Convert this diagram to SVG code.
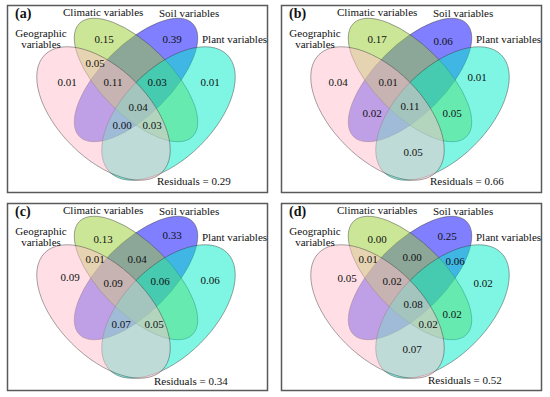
<svg xmlns="http://www.w3.org/2000/svg" xmlns:xlink="http://www.w3.org/1999/xlink" width="550" height="397" viewBox="0 0 550 397">
<style>
text{font-family:'Liberation Serif','DejaVu Serif',serif;font-size:11px;fill:#111}
.n{text-anchor:middle}
.c{text-anchor:middle}
.lab{font-weight:bold;font-size:14px}
.frame{fill:#fff;stroke:#5a5a5a;stroke-width:1.5}
ellipse{stroke:#3c3c3c;stroke-opacity:.55;stroke-width:.8;fill-opacity:.5}
.soil{fill:#0000ff}
.cli{fill:#9acd32}
.plant{fill:#00eec8}
.geo{fill:#ffc0cb}
</style>
<defs>
<g id="venn">
<ellipse class="soil" cx="0" cy="0" rx="80" ry="35" transform="translate(136 80) rotate(-45)"/>
<ellipse class="cli" cx="0" cy="0" rx="80" ry="35" transform="translate(136 80) rotate(45)"/>
<ellipse class="plant" cx="0" cy="0" rx="83" ry="45" transform="translate(168.5 113.5) rotate(-45)"/>
<ellipse class="geo" cx="0" cy="0" rx="83" ry="45" transform="translate(103.5 113.5) rotate(45)"/>
</g>
<g id="names">
<text x="63" y="16">Climatic variables</text>
<text x="159" y="17">Soil variables</text>
<text class="c" x="41" y="37">Geographic</text>
<text class="c" x="41" y="48">variables</text>
<text x="202" y="43">Plant variables</text>
</g>
</defs>
<rect x="0" y="0" width="550" height="397" fill="#fff"/>

<g id="panel-a">
<rect class="frame" x="7.5" y="5.5" width="260" height="187"/>
<use xlink:href="#venn"/>
<use xlink:href="#names"/>
<text class="lab" x="15" y="18">(a)</text>
<text class="n" x="104" y="43">0.15</text>
<text class="n" x="172" y="43">0.39</text>
<text class="n" x="95" y="67">0.05</text>
<text class="n" x="67" y="86">0.01</text>
<text class="n" x="113" y="86">0.11</text>
<text class="n" x="157" y="86">0.03</text>
<text class="n" x="210" y="86">0.01</text>
<text class="n" x="138" y="111">0.04</text>
<text class="n" x="122" y="129">0.00</text>
<text class="n" x="152" y="129">0.03</text>
<text x="157" y="185">Residuals = 0.29</text>
</g>

<g id="panel-b" transform="translate(274 0)">
<rect class="frame" x="7.5" y="5.5" width="260" height="187"/>
<use xlink:href="#venn"/>
<use xlink:href="#names"/>
<text class="lab" x="15" y="18">(b)</text>
<text class="n" x="103" y="43">0.17</text>
<text class="n" x="169" y="45">0.06</text>
<text class="n" x="64" y="86">0.04</text>
<text class="n" x="114" y="86">0.01</text>
<text class="n" x="203" y="81">0.01</text>
<text class="n" x="98" y="117">0.02</text>
<text class="n" x="136" y="110">0.11</text>
<text class="n" x="178" y="117">0.05</text>
<text class="n" x="139" y="156">0.05</text>
<text x="156" y="185">Residuals = 0.66</text>
</g>

<g id="panel-c" transform="translate(0 198)">
<rect class="frame" x="7.5" y="5.5" width="260" height="187"/>
<use xlink:href="#venn"/>
<use xlink:href="#names"/>
<text class="lab" x="15" y="18">(c)</text>
<text class="n" x="103" y="45">0.13</text>
<text class="n" x="172" y="41">0.33</text>
<text class="n" x="95" y="65">0.01</text>
<text class="n" x="137" y="65">0.04</text>
<text class="n" x="70" y="83">0.09</text>
<text class="n" x="113" y="89">0.09</text>
<text class="n" x="160" y="87">0.06</text>
<text class="n" x="210" y="86">0.06</text>
<text class="n" x="121" y="130">0.07</text>
<text class="n" x="154" y="130">0.05</text>
<text x="154" y="187">Residuals = 0.34</text>
</g>

<g id="panel-d" transform="translate(274 198)">
<rect class="frame" x="7.5" y="5.5" width="260" height="187"/>
<use xlink:href="#venn"/>
<use xlink:href="#names"/>
<text class="lab" x="15" y="18">(d)</text>
<text class="n" x="103" y="45">0.00</text>
<text class="n" x="173" y="42">0.25</text>
<text class="n" x="94" y="65">0.01</text>
<text class="n" x="138" y="63">0.00</text>
<text class="n" x="181" y="67">0.06</text>
<text class="n" x="73" y="84">0.05</text>
<text class="n" x="118" y="87">0.02</text>
<text class="n" x="209" y="89">0.02</text>
<text class="n" x="139" y="110">0.08</text>
<text class="n" x="178" y="120">0.02</text>
<text class="n" x="154" y="130">0.02</text>
<text class="n" x="138" y="155">0.07</text>
<text x="154" y="186">Residuals = 0.52</text>
</g>
</svg>
